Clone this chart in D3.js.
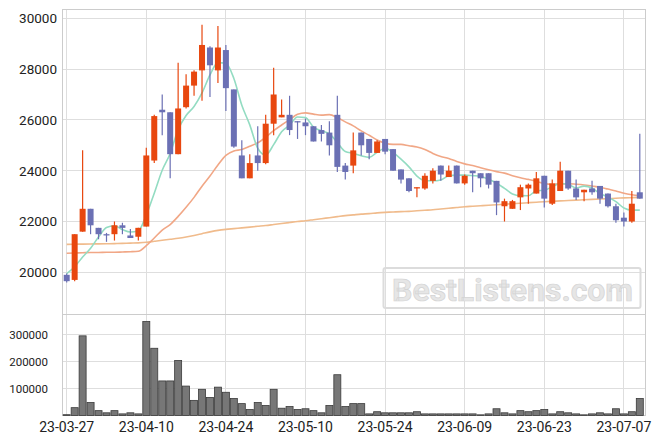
<!DOCTYPE html>
<html><head><meta charset="utf-8">
<script src="https://cdn.jsdelivr.net/npm/d3@7"></script>
<style>html,body{margin:0;padding:0;background:#fff;}svg{display:block;}</style>
</head><body>
<svg id="chart" width="663" height="444"></svg>
<script>
const dates = ["23-03-27","23-03-28","23-03-29","23-03-30","23-03-31","23-04-03","23-04-04","23-04-05","23-04-06","23-04-07",
"23-04-10","23-04-11","23-04-12","23-04-13","23-04-14","23-04-17","23-04-18","23-04-19","23-04-20","23-04-21",
"23-04-24","23-04-25","23-04-26","23-04-27","23-04-28","23-05-02","23-05-03","23-05-04","23-05-08","23-05-09",
"23-05-10","23-05-11","23-05-12","23-05-15","23-05-16","23-05-17","23-05-18","23-05-19","23-05-22","23-05-23",
"23-05-24","23-05-25","23-05-26","23-05-30","23-05-31","23-06-01","23-06-02","23-06-05","23-06-07","23-06-08",
"23-06-09","23-06-12","23-06-13","23-06-14","23-06-15","23-06-16","23-06-19","23-06-20","23-06-21","23-06-22",
"23-06-23","23-06-26","23-06-27","23-06-28","23-06-29","23-06-30","23-07-03","23-07-04","23-07-05","23-07-06",
"23-07-07","23-07-10","23-07-11"];
const open  = [19900,19700,21600,22500,21750,21500,21500,21850,21450,21400,21800,24400,26400,26300,24650,26500,27350,27950,28850,27950,
28750,27200,24600,23700,24600,24300,25850,26100,26200,25950,25900,25750,25600,25500,26200,24200,24200,25500,25250,24700,
25250,24850,24050,23700,23300,23300,23600,24200,23750,24200,23500,24000,23900,23900,23600,22600,22500,22950,23300,23100,
23800,22700,23200,24000,23300,23150,23300,23400,23100,22600,22150,22000,23150];
const high  = [19950,21500,24800,22500,21750,21550,22000,21950,21700,21750,24900,26200,27000,26300,28250,27800,27950,29750,28900,29700,
28950,27200,25200,24650,25750,26200,28050,26800,26950,25950,26050,25750,25800,25950,26950,24300,25500,25500,25250,25200,
25250,24850,24050,23700,23350,23900,24100,24200,24200,24200,23850,24000,23900,23900,23600,22900,22850,23450,23500,23950,
23800,23650,24350,24000,23650,23250,23600,23400,23100,22700,22350,23200,25450];
const low   = [19600,19650,21600,21500,21300,21200,21250,21500,21350,21250,21800,24300,25400,23700,24650,26450,26950,26750,26900,27450,
26350,24900,23700,23700,24000,24250,25400,26100,25400,25250,25400,25150,25150,24600,23950,23650,23900,24600,24450,24700,
24650,24000,23500,23150,22950,23250,23500,23600,23750,23500,23450,23150,23350,23300,22250,22000,22500,22450,22700,23100,
22550,22650,23200,23250,22850,22800,23050,22700,22550,21950,21800,21950,22900];
const close = [19650,21500,22500,21850,21500,21450,21850,21750,21350,21750,24600,26150,26300,24650,26450,27350,27900,28950,28150,28850,
27250,24950,23700,24300,24300,25850,27000,26200,25600,25900,25750,25150,25450,25000,24150,23950,24800,25000,24700,25150,
24750,24000,23650,23200,23350,23800,24000,23850,24000,23500,23800,23900,23700,23450,22750,22800,22800,23350,23450,23700,
22900,23500,24000,23300,22950,23250,23150,22900,22600,22050,22000,22700,22900];
const volume = [3000,29000,295000,48000,18000,10000,18000,6000,10000,6000,348000,249000,128000,128000,204000,109000,56000,97000,67000,105000,
86000,63000,44000,22000,48000,37000,97000,27000,33000,22000,25000,18000,10000,37000,151000,33000,44000,44000,6000,14000,
10000,10000,10000,10000,14000,6000,6000,6000,6000,6000,6000,6000,2500,6000,25000,10000,6000,18000,14000,18000,
22000,6000,14000,10000,6000,2500,6000,10000,6000,25000,6000,14000,63000];
const ma5 = [19950,20220,20600,20945,21393,21764,21834,21682,21585,21635,22254,23115,24020,24676,25615,26174,26528,27060,27768,28256,
28227,27632,26579,25803,24884,24612,25026,25533,25792,26115,26089,25719,25567,25454,25107,24753,24682,24588,24525,24724,
24882,24719,24454,24152,23790,23605,23602,23637,23799,23826,23826,23805,23774,23661,23511,23304,23086,23018,23015,23207,
23228,23370,23498,23469,23317,23391,23317,23100,22958,22779,22532,22448,22448];
const ma20 = [20750,20760,20770,20780,20780,20790,20790,20800,20810,20830,21050,21350,21660,21880,22200,22560,22950,23390,23790,24225,
24605,24777,24835,24958,25098,25317,25575,25798,26010,26218,26276,26227,26186,26206,26092,25921,25765,25567,25394,25208,
25084,25037,25036,24982,24935,24833,24681,24562,24483,24363,24268,24203,24114,24035,23964,23905,23804,23722,23658,23585,
23492,23467,23483,23487,23466,23438,23395,23348,23276,23204,23114,23056,23017];
const ma120 = [21100,21105,21110,21115,21120,21125,21130,21140,21150,21160,21180,21220,21260,21300,21340,21390,21450,21520,21590,21650,
21690,21720,21750,21780,21810,21840,21880,21920,21960,22000,22030,22070,22110,22150,22190,22230,22260,22290,22310,22340,
22360,22375,22390,22400,22420,22440,22460,22490,22520,22550,22580,22600,22620,22640,22660,22680,22700,22720,22740,22760,
22780,22795,22810,22825,22840,22855,22870,22885,22900,22915,22930,22940,22950];
const priceTicks = [20000,22000,24000,26000,28000,30000];
const volumeTicks = [100000,200000,300000];
const xTickLabels = ["23-03-27","23-04-10","23-04-24","23-05-10","23-05-24","23-06-09","23-06-23","23-07-07"];

const svg = d3.select("#chart");
const L = 62, R = 645, T = 9, MID = 314, B = 415.5;
const x = d3.scalePoint().domain(dates).range([66.7, 639.8]);
const y = d3.scaleLinear().domain([18358, 30366]).range([MID, T]);
const yv = d3.scaleLinear().domain([0, 375900]).range([B, MID]);

const grid = svg.append("g").attr("stroke", "#dedede").attr("stroke-width", 1).attr("shape-rendering","crispEdges");
xTickLabels.forEach(d => grid.append("line").attr("x1", x(d)).attr("x2", x(d)).attr("y1", T).attr("y2", B));
priceTicks.forEach(p => grid.append("line").attr("x1", L).attr("x2", R).attr("y1", y(p)).attr("y2", y(p)));
volumeTicks.forEach(v => grid.append("line").attr("x1", L).attr("x2", R).attr("y1", yv(v)).attr("y2", yv(v)));

// watermark
const wm = svg.append("g");
wm.append("rect").attr("x", 383.5).attr("y", 268).attr("width", 257).attr("height", 40).attr("rx", 2)
  .attr("fill", "none").attr("stroke", "#dcdcdc").attr("stroke-width", 2);
wm.append("text").attr("x", 392).attr("y", 301).attr("textLength", 241).attr("lengthAdjust", "spacingAndGlyphs")
  .attr("font-family", "Roboto, Arial, sans-serif").attr("font-weight", "bold").attr("font-size", 32)
  .attr("fill", "#e6e6e6").attr("stroke", "#d4d4d4").attr("stroke-width", 0.7).text("BestListens.com");

// frame
const frame = svg.append("g").attr("stroke", "#cccccc").attr("fill","none").attr("shape-rendering","crispEdges");
frame.append("line").attr("x1", L).attr("x2", L).attr("y1", T).attr("y2", B);
frame.append("line").attr("x1", R).attr("x2", R).attr("y1", T).attr("y2", B);
frame.append("line").attr("x1", L).attr("x2", R).attr("y1", T).attr("y2", T);
frame.append("line").attr("x1", L).attr("x2", R).attr("y1", MID).attr("y2", MID);
frame.append("line").attr("x1", L).attr("x2", R).attr("y1", B).attr("y2", B);

// volume bars
svg.append("g").selectAll("rect").data(dates).join("rect")
  .attr("x", d => x(d) - 3.5).attr("width", 7)
  .attr("y", (d, i) => yv(volume[i])).attr("height", (d, i) => B - yv(volume[i]))
  .attr("fill", "#777777").attr("stroke", "#3a3a3a").attr("stroke-width", 0.8);

// moving averages
const mkLine = arr => d3.line().x((d, i) => x(dates[i])).y(d => y(d)).curve(d3.curveMonotoneX)(arr);
svg.append("path").attr("d", mkLine(ma120)).attr("fill","none").attr("stroke","#f0bb8c").attr("stroke-width",1.6);
svg.append("path").attr("d", mkLine(ma20)).attr("fill","none").attr("stroke","#f1a786").attr("stroke-width",1.6);
svg.append("path").attr("d", mkLine(ma5)).attr("fill","none").attr("stroke","#93dcc2").attr("stroke-width",1.6);

// candles
const UP = "#e8470f", DOWN = "#6b70b4";
const cg = svg.append("g");
dates.forEach((d, i) => {
  const c = close[i] >= open[i] ? UP : DOWN;
  const cx = x(d);
  cg.append("line").attr("x1", cx).attr("x2", cx).attr("y1", y(high[i])).attr("y2", y(low[i]))
    .attr("stroke", c).attr("stroke-width", 1.2);
  const top = y(Math.max(open[i], close[i])), bot = y(Math.min(open[i], close[i]));
  cg.append("rect").attr("x", cx - 3).attr("width", 6).attr("y", top).attr("height", Math.max(1.2, bot - top))
    .attr("fill", c);
});

// labels
const font = "Roboto, Arial, sans-serif";
svg.append("g").selectAll("text").data(priceTicks).join("text")
  .attr("x", 57).attr("y", p => y(p)).attr("dy", "0.36em").attr("text-anchor", "end")
  .attr("font-family", font).attr("font-size", 13.5).attr("fill", "#222").text(p => p);
svg.append("g").selectAll("text").data(volumeTicks).join("text")
  .attr("x", 48).attr("y", v => yv(v)).attr("dy", "0.36em").attr("text-anchor", "end")
  .attr("font-family", font).attr("font-size", 11.5).attr("fill", "#222").text(v => v);
svg.append("g").selectAll("text").data(xTickLabels).join("text")
  .attr("x", d => x(d)).attr("y", 432).attr("text-anchor", "middle")
  .attr("font-family", font).attr("font-size", 14).attr("fill", "#222").text(d => d);
</script>
</body></html>
